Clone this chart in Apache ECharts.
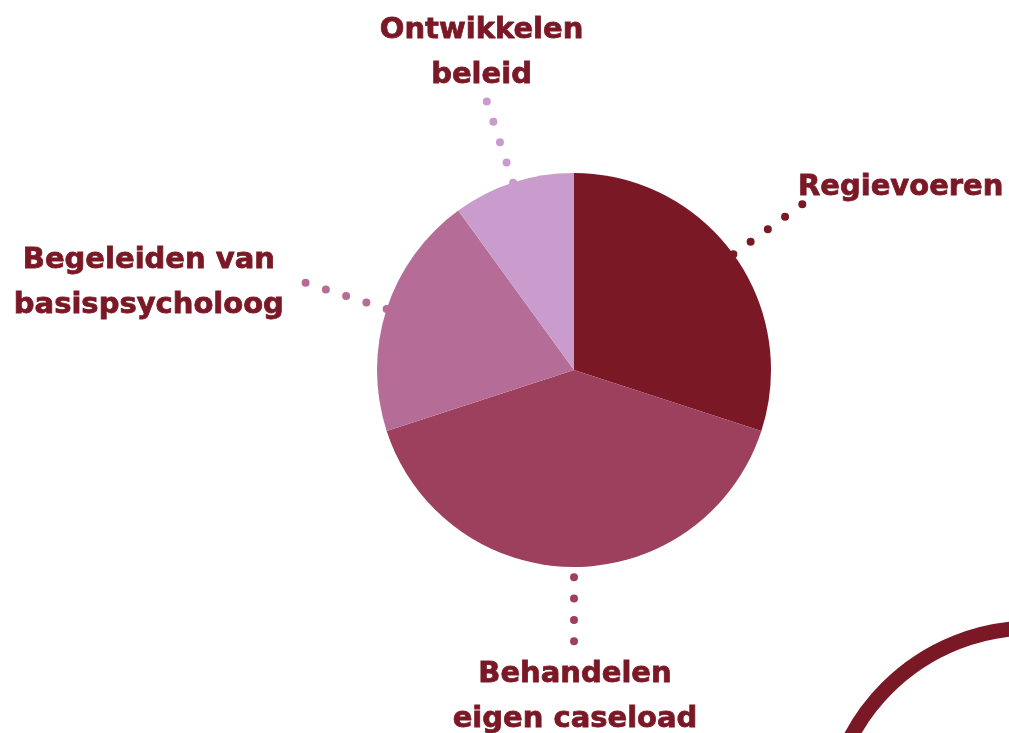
<!DOCTYPE html>
<html>
<head>
<meta charset="utf-8">
<script src="https://cdn.jsdelivr.net/npm/echarts@6/dist/echarts.min.js"></script>
<style>
  html, body { margin: 0; background: #fff; }
  #chart { width: 1009px; height: 733px; }
</style>
</head>
<body>
<div id="chart"></div>
<script>
const categories = ['Regievoeren', 'Behandelen\neigen caseload', 'Begeleiden van\nbasispsycholoog', 'Ontwikkelen\nbeleid'];
const values = [30, 40, 20, 10];
const colors = ['#7a1825', '#9d405d', '#b56d98', '#ca9ccd'];

// label offset from the end of its dotted line
const placement = {
  'Regievoeren': { dx: -5, dy: -16, align: 'left' },
  'Behandelen\neigen caseload': { dx: 1, dy: 53, align: 'center' },
  'Begeleiden van\nbasispsycholoog': { dx: -156, dy: 0, align: 'center' },
  'Ontwikkelen\nbeleid': { dx: -5, dy: -48, align: 'center' }
};

const chart = echarts.init(document.getElementById('chart'));

const pieData = categories.map((name, i) => {
  const short = name.indexOf('Behandelen') === 0;
  return {
    name: name,
    value: values[i],
    itemStyle: { color: colors[i] },
    labelLine: {
      length: short ? 77 : 86,
      lineStyle: { dashOffset: short ? 11 : 0 }
    }
  };
});

chart.setOption({
  animation: false,
  graphic: [{
    type: 'circle',
    shape: { cx: 1032, cy: 833, r: 205 },
    style: { fill: 'none', stroke: '#7a1825', lineWidth: 15 }
  }],
  series: [{
    type: 'pie',
    center: [574, 370],
    radius: 197,
    startAngle: 90,
    avoidLabelOverlap: false,
    emphasis: { disabled: true },
    label: {
      position: 'outside',
      color: '#7a1825',
      fontFamily: 'DejaVu Sans',
      fontWeight: 'bold',
      fontSize: 29,
      lineHeight: 45,
      textBorderColor: '#7a1825',
      textBorderWidth: 0.8,
      formatter: '{b}'
    },
    labelLine: {
      show: true,
      length: 86,
      length2: 0,
      smooth: false,
      lineStyle: { width: 8, type: [0, 21.3], cap: 'round' }
    },
    labelLayout: function (params) {
      const pts = params.labelLinePoints;
      const p = placement[categories[params.dataIndex]];
      const end = pts[1];
      return {
        x: end[0] + p.dx,
        y: end[1] + p.dy,
        align: p.align,
        verticalAlign: 'middle',
        labelLinePoints: pts
      };
    },
    data: pieData
  }]
});
</script>
</body>
</html>
